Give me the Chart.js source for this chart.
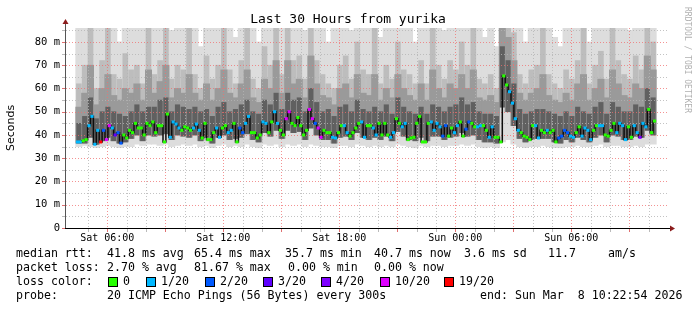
<!DOCTYPE html>
<html>
<head>
<meta charset="utf-8">
<script src="https://cdn.jsdelivr.net/npm/chart.js@4.4.1/dist/chart.umd.min.js"></script>
<style>
  html, body { margin: 0; padding: 0; background: #fff; }
  #wrap { width: 697px; height: 310px; }
</style>
</head>
<body>
<div id="wrap"><canvas id="smoke" width="697" height="310"></canvas></div>
<script>
// 30 hours ending Sun Mar 8 10:22:54
const spanHours = 30;
const smokeStep = 0.3;    // smoke column = 18 minutes
const medianStep = 0.15;  // median sample = 9 minutes
const startClock = 4 + 22.9 / 60;   // Sat 04:22:54
const yTicks = [0, 5, 10, 15, 20, 25, 30, 35, 40, 45, 50, 55, 60, 65, 70, 75, 80, 85];

// median rtt (ms)
const medianMs = [37,37,37.5,38,44,48,36,42,37,42, 38,44,43,40,41,36.5,40,38.7,42,41,
  45,43,43,40,45,44,45.6,41,44,44, 37,49,39,45.6,44.7,43,42,43.5,43,42,
  43,44.7,42,38.7,45,38,38,41,43,39,
  43,44,41,42,45,37,43,41,45,48, 41,41,38.7,40,45.6,45,41,45.6,50,45,
  42,40,47,50,45,44,47.5,44,40,42, 51,47,45,43,39,42,41,41,39,38.7,
  41,44,44,41,39.5,41,43,45,45.6,39,
  44,44,43,40,45,40,45,40,39,41, 47,45,43.5,45,38,38.7,39,45,48,37,
  37,45,45.6,42,45,43.5,39.5,44,39.5,43, 41,44,45.6,39.5,42.5,45.6,45,43.5,43.5,44,
  44,42,39,43.5,39,39,37,65.4,61.5,58.6,
  53.7,47,42,41,39.5,39,38,44,44,38.7, 42,41,42,41,42,37,38.7,39.5,42,41,
  39.5,39,41,43.5,39.5,43,42,38,42,44, 44,44,40,39.5,42,45,41,45,44,38,
  43.5,39,44,41,39,45,43.5,51,41,46];

// packet loss class per median sample (index into lossLabels)
const lossIdx = [1,1,0,0,1,1,1,1,6,2, 5,5,1,3,2,2,0,0,0,0, 0,0,0,0,0,0,0,0,0,0,
  0,0,1,1,1,1,0,0,0,0, 1,1,1,0,0,0,0,0,1,1,
  0,0,1,1,0,0,2,2,1,1, 0,0,0,0,1,1,0,0,1,1, 0,0,5,5,0,0,0,0,0,0,
  5,5,2,5,5,0,0,0,1,1, 0,0,1,1,0,0,0,0,1,1,
  0,0,1,1,0,0,0,0,1,1, 0,0,1,1,0,0,0,0,0,0, 0,0,1,1,1,1,2,2,0,0,
  1,1,0,0,2,2,0,0,1,1, 0,0,1,1,0,0,0,0,0,1,
  1,1,1,0,0,0,0,0,1,1, 0,0,1,0,0,0,2,2,2,2, 1,1,0,0,1,1,1,1,0,0,
  1,1,0,0,0,0,1,1,1,1, 0,0,1,1,4,1,1,0,0,0];
const lossLabels = ['0', '1/20', '2/20', '3/20', '4/20', '10/20', '19/20'];
const lossColors = ['#26ff00', '#00b8ff', '#0059ff', '#5e00ff', '#7e00ff', '#dd00ff', '#ff0000'];

// smoke per column: lowest ping, core band, 75th and 90th pct, highest ping (ms)
const minMs = [35,35.5,35,34.5,35,35.5,35,34.5,35,35, 36,35.5,36,36,35.5,36,35,35.5,36,35.5,
  36,35,35.5,34.5,35.5,36,35,35.5,35,36, 35,34.5,36,35.5,36,35,36,35.5,36,35,
  36,35.5,35,35,34.5,35.5,35.5,35,36,35.5, 35,35.5,35,35.5,35,36,35.5,35,34.5,35.5,
  35,35.5,35.5,35,35.5,35.5,36,35.5,36,35, 34.5,35,34.5,37,38,36,35,34.5,35,35,
  35.5,35,34.5,34.5,35,35,35.5,35,35,35.5, 36,35,35.5,35.5,35,35,35.5,35,36,36];
const coreLowMs = [36.5,36.5,39,36,37.5,39,37.5,36.5,37,38.5, 40,37.5,40,39.5,40,40.5,38,40,39.5,39,
  40,37.5,39,36.5,39,40,38,38.5,39,40.5, 38,37,41,39.5,42,38.5,42,41,41.5,38,
  43,40,38,38,36.5,39,39.5,38,41,39, 38,39,38,39.5,37.5,41.5,39.5,38,37.5,39,
  37.5,39.5,39.5,38,39,39.5,41,39.5,40,38, 37,37,36.5,52,50,44,38.5,37,38,38.5,
  38.5,38.5,37,36.5,38,37,39,38,37,39, 40,37,40,39.5,38,38,39.5,39,42,40];
const coreHighMs = [45,48,56,47,50,52,50,49,48,50, 53,50,52,52,55,56,50,53,52,51,
  52,50,51,48,52,54,50,51,53,55, 50,49,55,53,58,51,58,55,56,50,
  60,54,50,51,48,52,53,50,55,51, 50,52,50,53,49,56,52,50,49,52,
  49,53,52,50,52,53,56,53,54,50, 49,49,48,78,72,62,51,49,50,51,
  51,50,49,48,50,48,52,50,49,52, 54,49,54,52,50,50,53,52,60,56];
const p75Ms = [52,58,70,53,60,66,57,55,60,58, 62,55,68,58,63,70,56,60,58,66,
  58,55,62,55,60,68,58,56,62,68, 56,54,64,60,72,58,72,62,64,56,
  74,62,57,56,53,60,62,56,66,58, 57,66,55,60,56,66,60,57,55,62,
  55,68,60,56,62,60,66,60,68,56, 55,57,54,86,82,72,58,55,58,60,
  66,57,55,54,58,55,62,66,55,60, 64,56,68,62,57,56,62,60,74,68];
const p90Ms = [62,70,86,60,72,90,66,64,75,68, 70,62,88,66,72,90,64,70,68,90,
  66,60,74,64,70,90,68,62,72,86, 64,60,78,70,90,66,90,72,74,64,
  90,72,66,62,60,70,74,64,80,68, 66,90,62,70,64,80,68,66,62,72,
  62,90,70,64,72,68,80,70,90,64, 62,66,60,90,90,84,66,62,68,70,
  90,66,62,60,68,64,72,90,62,70, 76,64,90,72,66,64,74,68,90,80];
const maxMs = [88,95,95,90,95,95,92,80,95,90, 95,88,95,95,95,95,85,95,92,95,
  95,78,95,90,95,95,90,82,95,95, 88,80,95,95,95,92,95,95,95,85,
  95,95,88,80,92,95,95,85,95,92, 90,95,82,95,88,95,95,92,80,95,
  90,95,95,85,95,92,95,95,95,88, 82,95,78,95,95,95,92,80,95,95,
  95,90,82,78,95,88,95,95,80,95, 95,88,95,95,90,85,95,92,95,95];

const colX = minMs.map((v, i) => i * smokeStep + smokeStep / 2);
const band = (lo, hi) => colX.map((x, i) => ({ x: x, y: [lo[i], hi[i]] }));
const medianPts = medianMs.map((v, i) => ({ x: i * medianStep + medianStep / 2, y: v }));

// hour marks from Sat 05:00 on
const hourTicks = [];
for (let h = Math.ceil(startClock); h <= startClock + spanHours; h++) hourTicks.push(h - startClock);

const mono = '"DejaVu Sans Mono", monospace';

const smokePlugin = {
  id: 'smokeDecor',
  afterDatasetDraw(chart, args) {
    if (args.index !== 2) return;
    // rrdtool grid goes over the smoke
    const { ctx, chartArea: a, scales } = chart;
    ctx.save();
    ctx.lineWidth = 1;
    ctx.setLineDash([1, 2]);
    yTicks.forEach(v => {
      if (v === 0) return;
      const y = Math.round(scales.y.getPixelForValue(v)) + 0.5;
      ctx.strokeStyle = v % 10 === 0 ? 'rgba(240,110,110,0.75)' : 'rgba(180,180,180,0.8)';
      ctx.beginPath(); ctx.moveTo(a.left, y); ctx.lineTo(a.right + 2, y); ctx.stroke();
    });
    hourTicks.forEach(t => {
      const h = Math.round(t + startClock) % 24;
      const x = Math.round(scales.x.getPixelForValue(t)) + 0.5;
      ctx.strokeStyle = h % 3 === 0 ? 'rgba(240,110,110,0.75)' : 'rgba(180,180,180,0.8)';
      ctx.beginPath(); ctx.moveTo(x, a.top); ctx.lineTo(x, a.bottom); ctx.stroke();
    });
    ctx.restore();
  },
  afterDraw(chart) {
    const { ctx, chartArea: a, scales } = chart;
    ctx.save();
    // axes
    ctx.setLineDash([]);
    ctx.lineWidth = 1;
    ctx.strokeStyle = '#555';
    ctx.beginPath(); ctx.moveTo(a.left - 0.5, a.bottom); ctx.lineTo(a.left - 0.5, a.top - 6); ctx.stroke();
    ctx.strokeStyle = '#000';
    ctx.beginPath(); ctx.moveTo(a.left - 4, a.bottom + 0.5); ctx.lineTo(a.right + 4, a.bottom + 0.5); ctx.stroke();
    // tick marks
    yTicks.forEach(v => {
      const y = Math.round(scales.y.getPixelForValue(v)) + 0.5;
      ctx.strokeStyle = v % 10 === 0 ? '#e07070' : '#bbb';
      ctx.beginPath(); ctx.moveTo(a.left - 4, y); ctx.lineTo(a.left - 1, y); ctx.stroke();
    });
    hourTicks.forEach(t => {
      const h = Math.round(t + startClock) % 24;
      const x = Math.round(scales.x.getPixelForValue(t)) + 0.5;
      ctx.strokeStyle = h % 3 === 0 ? '#e07070' : '#bbb';
      ctx.beginPath(); ctx.moveTo(x, a.bottom + 1); ctx.lineTo(x, a.bottom + 4); ctx.stroke();
    });
    // arrows
    ctx.fillStyle = '#8b1c1c';
    ctx.beginPath(); ctx.moveTo(a.left - 0.5, a.top - 9); ctx.lineTo(a.left - 3.5, a.top - 4); ctx.lineTo(a.left + 2.5, a.top - 4); ctx.closePath(); ctx.fill();
    ctx.beginPath(); ctx.moveTo(a.right + 9, a.bottom + 0.5); ctx.lineTo(a.right + 4, a.bottom - 2.5); ctx.lineTo(a.right + 4, a.bottom + 3.5); ctx.closePath(); ctx.fill();

    // title
    ctx.fillStyle = '#000';
    ctx.font = '13px ' + mono;
    ctx.textAlign = 'center';
    ctx.textBaseline = 'middle';
    ctx.fillText('Last 30 Hours from yurika', 348, 20);

    // y title
    ctx.save();
    ctx.translate(11, 128);
    ctx.rotate(-Math.PI / 2);
    ctx.font = '11px "DejaVu Sans", sans-serif';
    ctx.fillText('Seconds', 0, 0);
    ctx.restore();

    // watermark
    ctx.save();
    ctx.translate(687, 60);
    ctx.rotate(Math.PI / 2);
    ctx.fillStyle = '#b0b0b0';
    ctx.font = '8px ' + mono;
    ctx.fillText('RRDTOOL / TOBI OETIKER', 0, 0);
    ctx.restore();

    // legend
    ctx.font = '11.6px ' + mono;
    ctx.textAlign = 'left';
    ctx.fillStyle = '#000';
    const row1 = [[16, 'median rtt:'], [107, '41.8 ms avg'], [194, '65.4 ms max'], [285, '35.7 ms min'],
      [374, '40.7 ms now'], [464, '3.6 ms sd'], [548, '11.7'], [608, 'am/s']];
    const row2 = [[16, 'packet loss:'], [107, '2.70 % avg'], [194, '81.67 % max'], [288, '0.00 % min'], [374, '0.00 % now']];
    row1.forEach(([x, s]) => ctx.fillText(s, x, 254));
    row2.forEach(([x, s]) => ctx.fillText(s, x, 268));
    ctx.fillText('loss color:', 16, 282);
    const boxX = [108, 146, 205, 263, 321, 380, 444];
    lossLabels.forEach((s, i) => {
      ctx.fillStyle = lossColors[i];
      ctx.fillRect(boxX[i] + 0.5, 277.5, 9, 9);
      ctx.strokeStyle = '#000';
      ctx.strokeRect(boxX[i] + 0.5, 277.5, 9, 9);
      ctx.fillStyle = '#000';
      ctx.fillText(s, boxX[i] + 15, 282);
    });
    ctx.fillText('probe:', 16, 296);
    ctx.fillText('20 ICMP Echo Pings (56 Bytes) every 300s', 107, 296);
    ctx.fillText('end: Sun Mar  8 10:22:54 2026', 480, 296);
    ctx.restore();
  }
};

new Chart(document.getElementById('smoke').getContext('2d'), {
  data: {
    datasets: [
      {
        type: 'line', label: 'median', order: 0,
        data: medianPts,
        showLine: false, pointStyle: 'line', pointRadius: 1.6, pointBorderWidth: 3,
        pointBorderColor: lossIdx.map(k => lossColors[k])
      },
      {
        type: 'line', label: 'median line', order: 1,
        data: medianPts,
        stepped: 'middle', borderColor: '#0d0d0d', borderWidth: 1.5, pointRadius: 0
      },
      {
        type: 'bar', label: 'core', order: 2, grouped: false,
        data: band(coreLowMs, coreHighMs), backgroundColor: '#606060', barThickness: 4.5
      },
      {
        type: 'bar', label: 'p75', order: 3, grouped: false,
        data: band(coreLowMs, p75Ms), backgroundColor: '#9a9a9a', barThickness: 6.4
      },
      {
        type: 'bar', label: 'p90', order: 4, grouped: false,
        data: band(coreLowMs, p90Ms), backgroundColor: '#bdbdbd', barThickness: 5
      },
      {
        type: 'bar', label: 'range', order: 5, grouped: false,
        data: band(minMs, maxMs), backgroundColor: '#dddddd', barThickness: 6.4
      }
    ]
  },
  options: {
    responsive: false,
    animation: false,
    layout: { padding: { left: 0, right: 31, top: 28, bottom: 0 } },
    plugins: { legend: { display: false }, tooltip: { enabled: false }, title: { display: false } },
    scales: {
      x: {
        type: 'linear', min: 0, max: spanHours,
        afterBuildTicks: s => { s.ticks = hourTicks.map(v => ({ value: v })); },
        afterFit: s => { s.height = 82; },
        grid: { display: false, drawTicks: false },
        border: { display: false },
        ticks: {
          autoSkip: false, maxRotation: 0, padding: 4, color: '#000',
          font: { family: mono, size: 10 },
          callback: v => {
            const clock = Math.round(v + startClock);
            const h = clock % 24;
            if (h % 6 !== 0) return '';
            return (clock < 24 ? 'Sat ' : 'Sun ') + String(h).padStart(2, '0') + ':00';
          }
        }
      },
      y: {
        min: 0, max: 86,
        afterBuildTicks: s => { s.ticks = yTicks.map(v => ({ value: v })); },
        afterFit: s => { s.width = 66; },
        grid: { display: false, drawTicks: false },
        border: { display: false },
        ticks: {
          autoSkip: false, padding: 6, color: '#000',
          font: { family: mono, size: 10.5 },
          callback: v => v === 0 ? '0' : (v % 10 === 0 ? v + ' m' : '')
        }
      }
    }
  },
  plugins: [smokePlugin]
});
</script>
</body>
</html>
